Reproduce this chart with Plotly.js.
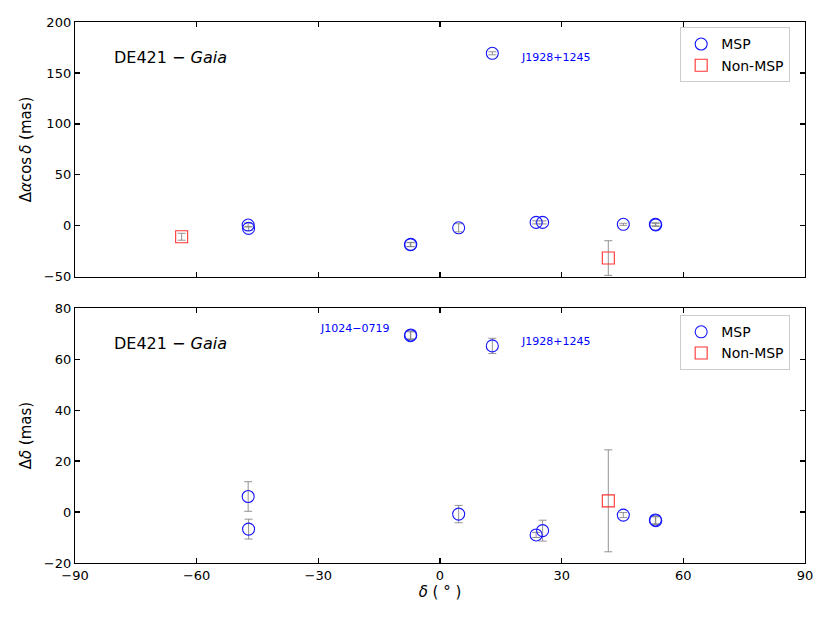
<!DOCTYPE html>
<html><head><meta charset="utf-8">
<script src="https://cdn.plot.ly/plotly-3.0.1.min.js"></script>
<style>body{margin:0;background:#fff}#c{width:830px;height:623px}</style>
</head><body><div id="c"></div>
<script>
// Declination (deg) of millisecond pulsars and their offsets
const mspDec = [-47.3, -47.2, -7.2, -7.3, 4.6, 12.9, 23.7, 25.3, 45.2, 53.1, 53.2];
const mspDRA = [0.8, -2.5, -18.2, -18.5, -1.9, 169.3, 3.4, 3.4, 1.5, 1.5, 1.0];
const mspDRAErr = [2, 2, 2, 2, 4, 1.5, 1.5, 1.5, 1, 1.5, 1.5];
const mspDDec = [6.1, -6.7, 69.5, 69.2, -0.8, 65.2, -9.0, -7.3, -1.2, -3.1, -3.4];
const mspDDecErr = [5.8, 3.9, 1.5, 1.5, 3.4, 3.0, 1.0, 4.1, 1.0, 1.5, 1.5];
// Non-MSP pulsars
const nonDec = [-63.7, 41.5];
const nonDRA = [-10.7, -31.6];
const nonDRAErr = [3.4, 17];
const nonDDec = [null, 4.4];
const nonDDecErr = [null, 20];
const xTicks = [-90, -60, -30, 0, 30, 60, 90];
const xTickText = ['\u221290', '\u221260', '\u221230', '0', '30', '60', '90'];
const yTopTicks = [-50, 0, 50, 100, 150, 200];
const yTopText = ['\u221250', '0', '50', '100', '150', '200'];
const yBotTicks = [-20, 0, 20, 40, 60, 80];
const yBotText = ['\u221220', '0', '20', '40', '60', '80'];

const F = 'DejaVu Sans, sans-serif';
const errStyle = {type: 'data', visible: true, color: 'rgba(128,128,128,0.85)', thickness: 1, width: 4};
const mspMarker = {symbol: 'circle-open', size: 12, color: 'rgb(20,20,255)', line: {width: 1.1, color: 'rgb(20,20,255)'}};
const nonMarker = {symbol: 'square-open', size: 12, color: 'rgb(255,50,50)', line: {width: 1.1, color: 'rgb(255,50,50)'}};

const traces = [
  {x: mspDec, y: mspDRA, error_y: Object.assign({array: mspDRAErr}, errStyle), mode: 'markers', type: 'scatter', name: 'MSP', marker: mspMarker, xaxis: 'x', yaxis: 'y', legend: 'legend'},
  {x: nonDec, y: nonDRA, error_y: Object.assign({array: nonDRAErr}, errStyle), mode: 'markers', type: 'scatter', name: 'Non-MSP', marker: nonMarker, xaxis: 'x', yaxis: 'y', legend: 'legend'},
  {x: mspDec, y: mspDDec, error_y: Object.assign({array: mspDDecErr}, errStyle), mode: 'markers', type: 'scatter', name: 'MSP', marker: mspMarker, xaxis: 'x2', yaxis: 'y2', legend: 'legend2'},
  {x: nonDec, y: nonDDec, error_y: Object.assign({array: nonDDecErr}, errStyle), mode: 'markers', type: 'scatter', name: 'Non-MSP', marker: nonMarker, xaxis: 'x2', yaxis: 'y2', legend: 'legend2'}
];

const axCommon = {showgrid: false, zeroline: false, showline: true, linecolor: '#000', linewidth: 1.2, mirror: 'ticks', ticks: 'inside', ticklen: 5, tickwidth: 1.2, tickcolor: '#000', tickfont: {family: F, size: 13, color: '#000'}};

const legendCommon = {bgcolor: 'rgba(255,255,255,0.9)', bordercolor: '#cccccc', borderwidth: 1, font: {family: F, size: 14, color: '#000'}, xanchor: 'left', yanchor: 'top', x: 0.829, tracegroupgap: 0, itemwidth: 30};

const layout = {
  width: 830, height: 623,
  margin: {l: 75, r: 25, t: 22, b: 60},
  paper_bgcolor: '#fff', plot_bgcolor: '#fff',
  showlegend: true,
  xaxis: Object.assign({}, axCommon, {range: [-90, 90], tickvals: xTicks, ticktext: xTickText, showticklabels: false, anchor: 'y'}),
  yaxis: Object.assign({}, axCommon, {domain: [0.529, 1], range: [-50, 200], tickvals: yTopTicks, ticktext: yTopText, title: {text: '\u0394<i>\u03b1</i>cos\u2009<i>\u03b4</i> (mas)', font: {family: F, size: 15, color: '#000'}, standoff: 8}}),
  xaxis2: Object.assign({}, axCommon, {range: [-90, 90], tickvals: xTicks, ticktext: xTickText, anchor: 'y2', title: {text: '<i>\u03b4</i> ( \u00b0 )', font: {family: F, size: 15, color: '#000'}, standoff: 4}}),
  yaxis2: Object.assign({}, axCommon, {domain: [0, 0.471], range: [-20, 80], tickvals: yBotTicks, ticktext: yBotText, title: {text: '\u0394<i>\u03b4</i> (mas)', font: {family: F, size: 15, color: '#000'}, standoff: 8}}),
  legend: Object.assign({}, legendCommon, {y: 0.99}),
  legend2: Object.assign({}, legendCommon, {y: 0.458}),
  annotations: [
    {xref: 'x domain', yref: 'y domain', x: 0.05, y: 0.86, xanchor: 'left', yanchor: 'middle', showarrow: false, text: 'DE421 \u2212 <i>Gaia</i>', font: {family: F, size: 16, color: '#000'}},
    {xref: 'x2 domain', yref: 'y2 domain', x: 0.05, y: 0.86, xanchor: 'left', yanchor: 'middle', showarrow: false, text: 'DE421 \u2212 <i>Gaia</i>', font: {family: F, size: 16, color: '#000'}},
    {xref: 'x', yref: 'y', x: 19.5, y: 165, xanchor: 'left', yanchor: 'middle', showarrow: false, text: 'J1928+1245', font: {family: F, size: 11, color: 'blue'}},
    {xref: 'x2', yref: 'y2', x: 19.5, y: 66.9, xanchor: 'left', yanchor: 'middle', showarrow: false, text: 'J1928+1245', font: {family: F, size: 11, color: 'blue'}},
    {xref: 'x2', yref: 'y2', x: -12.0, y: 71.9, xanchor: 'right', yanchor: 'middle', showarrow: false, text: 'J1024\u22120719', font: {family: F, size: 11, color: 'blue'}}
  ]
};

Plotly.newPlot('c', traces, layout, {displayModeBar: false, staticPlot: true});
</script>
</body></html>
